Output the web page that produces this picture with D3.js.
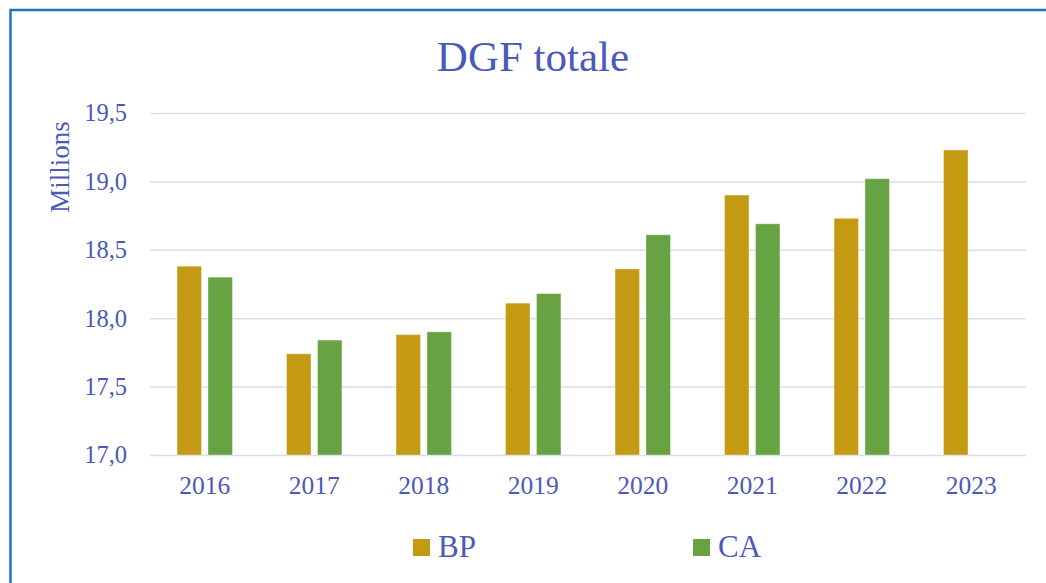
<!DOCTYPE html>
<html>
<head>
<meta charset="utf-8">
<script src="https://cdn.jsdelivr.net/npm/d3@7"></script>
<style>
  body { margin: 0; background: #fff; }
  svg text { font-family: "Liberation Serif", "DejaVu Serif", serif; fill: #4b5ab8; }
</style>
</head>
<body>
<div id="chart"></div>
<script>
const years = ["2016", "2017", "2018", "2019", "2020", "2021", "2022", "2023"];
const series = ["BP", "CA"];
const bp_values = [18.38, 17.74, 17.88, 18.11, 18.36, 18.90, 18.73, 19.23];
const ca_values = [18.30, 17.84, 17.90, 18.18, 18.61, 18.69, 19.02, null];
const y_ticks = [17.0, 17.5, 18.0, 18.5, 19.0, 19.5];
const colors = {BP: "#c49a13", CA: "#67a342"};

let svg_width = 1046, svg_height = 583,
    margin = {top: 113, right: 20, bottom: 128, left: 150},
    width = svg_width - margin.left - margin.right,
    height = svg_height - margin.top - margin.bottom;

let svg = d3.select("#chart").append("svg")
    .attr("width", svg_width)
    .attr("height", svg_height);

// chart frame (only top and left edges visible in the picture)
svg.append("rect")
    .attr("x", 10.5)
    .attr("y", 10)
    .attr("width", svg_width + 20)
    .attr("height", svg_height + 20)
    .attr("fill", "none")
    .attr("stroke", "#1a74c4")
    .attr("stroke-width", 2.5);

let x = d3.scaleBand()
    .domain(years)
    .range([0, width]);
let x_inner = d3.scaleBand()
    .domain(series)
    .range([x.bandwidth() * 0.247, x.bandwidth() * 0.753])
    .paddingInner(0.21);
let y = d3.scaleLinear()
    .domain([17, 19.5])
    .range([height, 0]);

let g = svg.append("g")
    .attr("transform", "translate(" + margin.left + ", " + margin.top + ")");

// gridlines
g.append("g")
    .call(d3.axisLeft(y).tickValues(y_ticks).tickSize(-width).tickFormat(""))
    .call(a => a.select(".domain").remove())
    .call(a => a.selectAll("line")
        .attr("stroke", "#d9dbf0")
        .attr("stroke-width", 1.5));

// y labels
g.append("g")
    .call(d3.axisLeft(y).tickValues(y_ticks).tickSize(0).tickPadding(23)
        .tickFormat(d => d3.format(".1f")(d).replace(".", ",")))
    .call(a => a.select(".domain").remove())
    .call(a => a.selectAll("text")
        .attr("font-size", 24.5)
        .attr("font-family", null)
        .attr("fill", null));

// x labels
g.append("g")
    .attr("transform", "translate(0, " + height + ")")
    .call(d3.axisBottom(x).tickSize(0).tickPadding(21))
    .call(a => a.select(".domain").remove())
    .call(a => a.selectAll("text")
        .attr("font-size", 25.5)
        .attr("font-family", null)
        .attr("fill", null));

const rows = years.map((yr, i) => ({year: yr, BP: bp_values[i], CA: ca_values[i]}));

g.append("g").selectAll("g")
    .data(rows)
    .join("g")
    .attr("transform", d => "translate(" + x(d.year) + ", 0)")
    .selectAll("rect")
    .data(d => series.filter(s => d[s] != null).map(s => ({key: s, value: d[s]})))
    .join("rect")
    .attr("x", d => x_inner(d.key))
    .attr("width", x_inner.bandwidth())
    .attr("y", d => y(d.value))
    .attr("height", d => y(17) - y(d.value))
    .attr("fill", d => colors[d.key])
    .attr("stroke", "rgba(255,255,255,0.35)")
    .attr("stroke-width", 1);

// title
svg.append("text")
    .attr("x", 533)
    .attr("y", 71)
    .attr("text-anchor", "middle")
    .attr("font-size", 43)
    .text("DGF totale");

// y axis title
svg.append("text")
    .attr("transform", "translate(69, 167) rotate(-90)")
    .attr("text-anchor", "middle")
    .attr("font-size", 27)
    .text("Millions");

// legend
const legend_x = {BP: 413, CA: 693};
let legend = svg.append("g").selectAll("g")
    .data(series)
    .join("g")
    .attr("transform", d => "translate(" + legend_x[d] + ", 539)");
legend.append("rect")
    .attr("width", 17)
    .attr("height", 17)
    .attr("fill", d => colors[d]);
legend.append("text")
    .attr("x", 25)
    .attr("y", 18)
    .attr("font-size", 31)
    .text(d => d);
</script>
</body>
</html>
